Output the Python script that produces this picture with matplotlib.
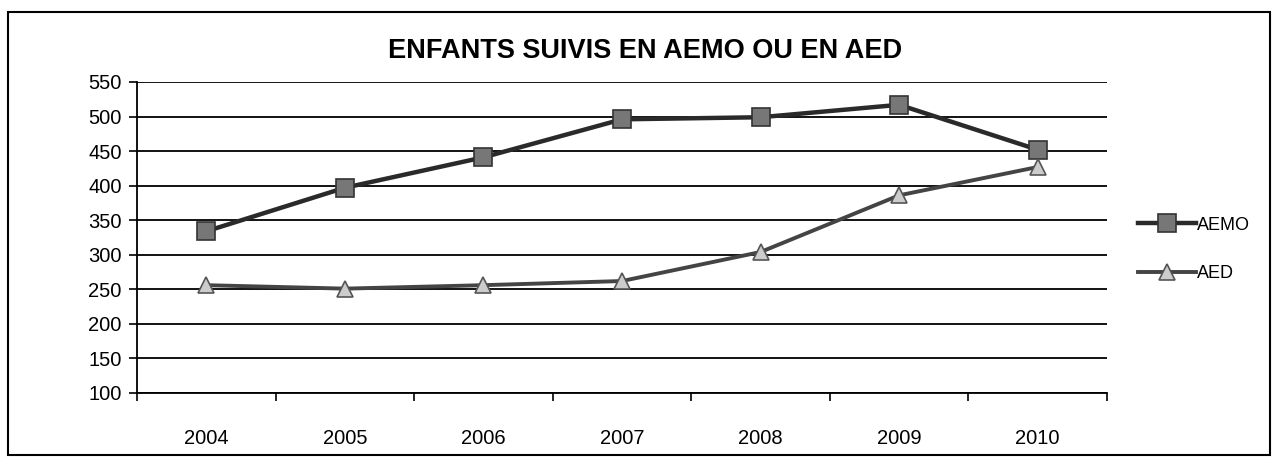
import matplotlib.pyplot as plt
from matplotlib.patches import Rectangle
import numpy as np

years = ['2004', '2005', '2006', '2007', '2008', '2009', '2010']
aemo = [334, 397, 441, 496, 499, 517, 452]
aed = [256, 251, 256, 262, 304, 386, 427]

plt.rcParams['font.family'] = ['Liberation Sans', 'DejaVu Sans']

fig = plt.figure(figsize=(12.78, 4.63), dpi=100)
ax = fig.add_axes([0.1072, 0.1512, 0.7590, 0.6717])

x = np.arange(len(years))
ax.plot(x, aemo, '-s', color='#2a2a2a', lw=3.2, ms=13,
        mfc='#777777', mec='#333333', mew=1.2, label='AEMO')
ax.plot(x, aed, '-^', color='#444444', lw=2.8, ms=11,
        mfc='#cccccc', mec='#555555', mew=1.2, label='AED')

ax.set_xlim(-0.5, len(years) - 0.5)
ax.set_ylim(100, 550)
ax.set_yticks(range(100, 551, 50))
ax.set_xticks(x)
ax.set_xticklabels(years)
ax.set_xticks(np.arange(-0.5, len(years), 1), minor=True)
ax.tick_params(axis='x', which='major', length=0, pad=26, labelsize=14.5)
ax.tick_params(axis='x', which='minor', length=6, width=1.2)
ax.tick_params(axis='y', length=6, width=1.2, labelsize=14.5, pad=5)
ax.yaxis.grid(True, color='black', lw=1.3)
ax.set_axisbelow(True)
for s in ['top', 'right']:
    ax.spines[s].set_visible(False)
for s in ['left', 'bottom']:
    ax.spines[s].set_linewidth(1.3)

fig.text(0.505, 0.89, 'ENFANTS SUIVIS EN AEMO OU EN AED', ha='center',
         va='center', fontsize=19.5, fontweight='bold')

ax.legend(loc='center left', bbox_to_anchor=(1.015, 0.462), frameon=False,
          fontsize=13, handlelength=3.2, handletextpad=0.1, labelspacing=1.75)

fig.patches.append(Rectangle((0.006, 0.017), 0.988, 0.958, transform=fig.transFigure,
                             fill=False, edgecolor='black', lw=1.5))

fig.savefig('out.png', dpi=100)
